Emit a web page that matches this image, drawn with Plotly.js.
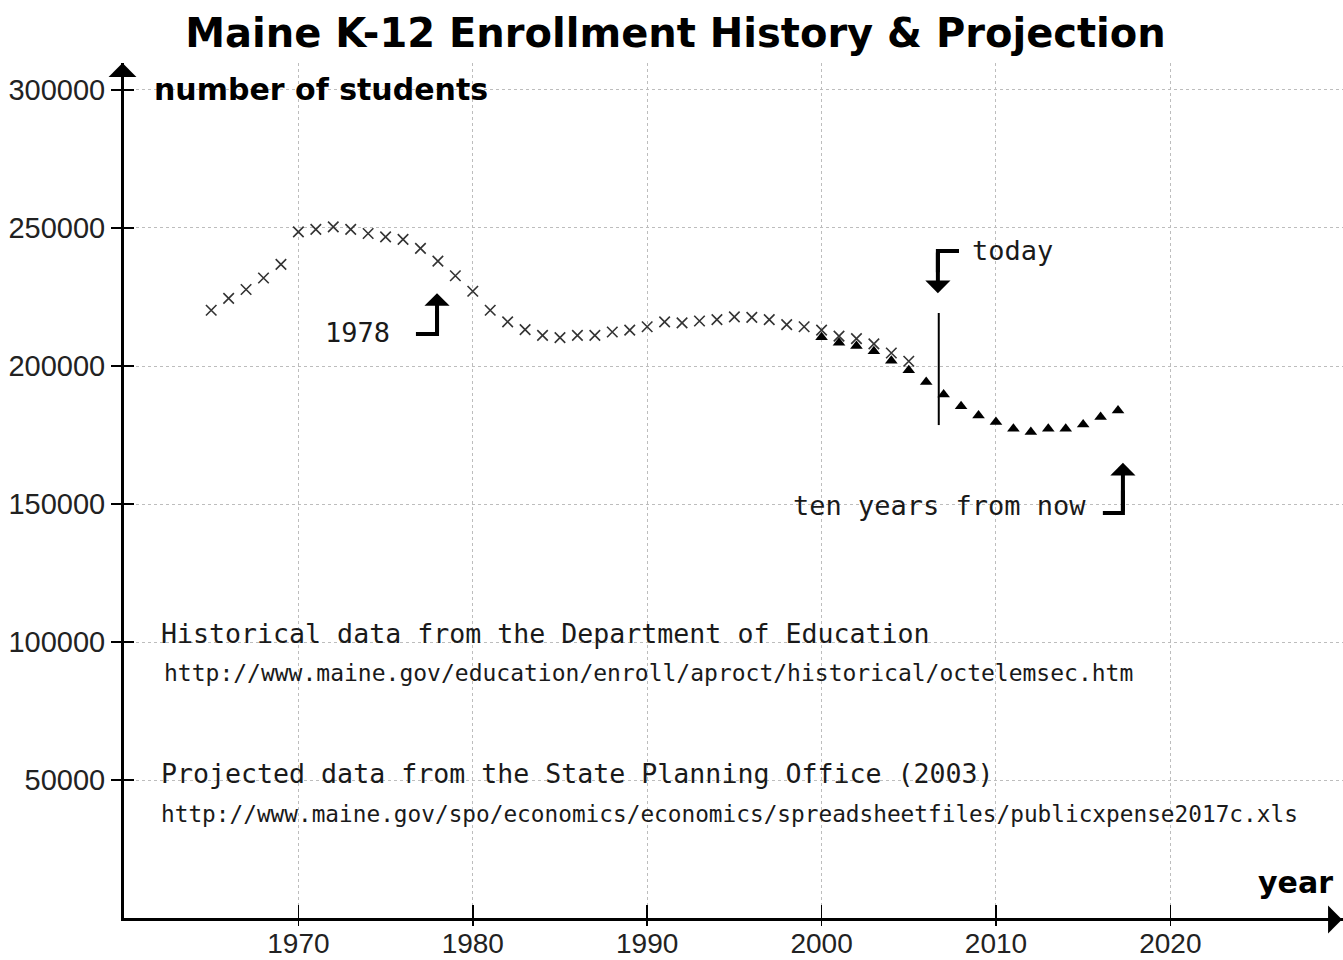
<!DOCTYPE html>
<html>
<head>
<meta charset="utf-8">
<script src="https://cdn.plot.ly/plotly-3.0.1.min.js"></script>
<style>html,body{margin:0;padding:0;background:#fff}#chart{width:1343px;height:960px}</style>
</head>
<body>
<div id="chart"></div>
<script>
// ---- data ----
const histYears = [1965,1966,1967,1968,1969,1970,1971,1972,1973,1974,1975,1976,1977,1978,1979,
                   1980,1981,1982,1983,1984,1985,1986,1987,1988,1989,1990,1991,1992,1993,1994,
                   1995,1996,1997,1998,1999,2000,2001,2002,2003,2004,2005];
const histValues = [220200,224500,227700,231900,236800,248600,249500,250400,249500,248000,246800,245900,242600,238000,232700,
                    227100,220200,216000,213200,211100,210300,211100,211100,212300,213000,214200,216000,215600,216300,216800,
                    217800,217600,216800,215000,214200,213000,210800,209900,208000,204700,201700];
const projYears = [2000,2001,2002,2003,2004,2005,2006,2007,2008,2009,2010,2011,2012,2013,2014,2015,2016,2017];
const projValues = [210400,208400,207200,205300,201900,198500,194200,189700,185400,182100,179700,177300,176100,177300,177300,178800,181500,183900];

const xTickVals = [1970,1980,1990,2000,2010,2020];
const xTickText = ['1970','1980','1990','2000','2010','2020'];
const yTickVals = [50000,100000,150000,200000,250000,300000];
const yTickText = ['50000','100000','150000','200000','250000','300000'];

const titleText = 'Maine K-12 Enrollment History &amp; Projection';
const yLabelText = 'number of students';
const xLabelText = 'year';
const note1978 = '1978';
const noteToday = 'today';
const noteTen = 'ten years from now';
const source1 = 'Historical data from the Department of Education';
const source1Url = 'http://www.maine.gov/education/enroll/aproct/historical/octelemsec.htm';
const source2 = 'Projected data from the State Planning Office (2003)';
const source2Url = 'http://www.maine.gov/spo/economics/economics/spreadsheetfiles/publicxpense2017c.xls';

// ---- styling / layout ----
const xRange = [1960, 2029.9];
const yRange = [0, 309780];
const mono = 'DejaVu Sans Mono, Liberation Mono, monospace';
const boldSans = 'DejaVu Sans, Verdana, sans-serif';
const tickFontY = {family: 'Liberation Sans, Arial, sans-serif', size: 29, color: '#222'};
const tickFontX = {family: 'Liberation Sans, Arial, sans-serif', size: 28, color: '#222'};

const traces = [
  {type: 'scatter', mode: 'markers', x: histYears, y: histValues, name: 'historical',
   marker: {symbol: 'x-thin-open', size: 10.5, color: '#333', line: {width: 1.6, color: '#333'}}, hoverinfo: 'x+y'},
  {type: 'scatter', mode: 'markers', x: projYears, y: projValues, name: 'projected',
   marker: {symbol: 'triangle-up', size: 11, color: '#000'}, hoverinfo: 'x+y'},
  {type: 'scatter', mode: 'markers', x: [], y: [], xaxis: 'x2', yaxis: 'y2', showlegend: false, hoverinfo: 'skip'}
];

function arrow(tailX, tailY, tipX, tipY, w, size, head) {
  return {xref: 'x', yref: 'y', axref: 'x', ayref: 'y', x: tipX, y: tipY, ax: tailX, ay: tailY,
          showarrow: true, arrowhead: head, arrowwidth: w, arrowsize: size, arrowcolor: '#000', text: ''};
}
function axisHead(x, y, dx, dy) {
  return {xref: 'paper', yref: 'paper', x: x, y: y, ax: dx, ay: dy, showarrow: true,
          arrowhead: 1, arrowwidth: 3, arrowsize: 1.55, arrowcolor: '#000', text: ''};
}
function label(x, y, text, font, xanchor) {
  return {xref: 'x', yref: 'y', x: x, y: y, text: text, showarrow: false, xanchor: xanchor, yanchor: 'middle', font: font};
}
function elbow(x1, y1, x2, y2) {
  return {type: 'path', xref: 'x', yref: 'y', path: 'M' + x1 + ',' + y1 + ' L' + x2 + ',' + y1 + ' L' + x2 + ',' + y2,
          line: {color: '#000', width: 4}};
}

const textFont = {family: mono, size: 27, color: '#1a1a1a'};
const srcFont = {family: mono, size: 26.6, color: '#1a1a1a'};
const url1Font = {family: mono, size: 23, color: '#1a1a1a'};
const url2Font = {family: mono, size: 22.75, color: '#1a1a1a'};
const boldFont = {family: boldSans, size: 30, color: '#000', weight: 'bold'};

const annotations = [
  // axis arrowheads (paper coords, tail offset in px)
  axisHead(-1.5 / 1219, 1, 0, 24),
  axisHead(1, -1.5 / 855, -24, 0),
  // callout arrows
  arrow(1977.95, 211600, 1977.95, 226400, 4, 1.05, 1),
  arrow(2006.67, 241700, 2006.67, 226400, 4, 1.05, 1),
  arrow(2017.28, 146700, 2017.28, 164900, 4, 1.05, 1),
  // texts
  label(1975.37, 212000, note1978, textFont, 'right'),
  label(2008.5, 241700, noteToday, textFont, 'left'),
  label(2015.3, 149600, noteTen, textFont, 'right'),
  label(1962.0, 102900, source1, srcFont, 'left'),
  label(1962.2, 88800, source1Url, url1Font, 'left'),
  label(1962.0, 52500, source2, srcFont, 'left'),
  label(1962.0, 37700, source2Url, url2Font, 'left'),
  label(1961.6, 300000, yLabelText, boldFont, 'left'),
  label(2029.45, 13000, xLabelText, boldFont, 'right')
];

const shapes = [
  {type: 'line', xref: 'x', yref: 'y', x0: 2006.72, x1: 2006.72, y0: 178600, y1: 219200, line: {color: '#000', width: 2}},
  elbow(1976.74, 211600, 1977.95, 220000),
  elbow(2007.88, 241700, 2006.67, 234000),
  elbow(2016.13, 146700, 2017.28, 155000)
];

const axisCommon = {showline: true, linewidth: 3, linecolor: '#000', zeroline: false,
  showgrid: true, gridcolor: '#bdbdbd', griddash: 'dot', gridwidth: 1,
  tickcolor: '#000', tickwidth: 1.5, fixedrange: true};

const layout = {
  width: 1343, height: 960,
  margin: {l: 124, r: 0, t: 63, b: 42, pad: 0},
  paper_bgcolor: '#fff', plot_bgcolor: '#fff', showlegend: false,
  title: {text: titleText, xref: 'container', yref: 'container', x: 0.503, y: 0.9656,
          xanchor: 'center', yanchor: 'middle', font: {family: boldSans, size: 40, color: '#000', weight: 'bold'}},
  xaxis: Object.assign({}, axisCommon, {range: xRange, tickvals: xTickVals, ticktext: xTickText, tickfont: tickFontX,
          ticks: 'outside', ticklen: 5, ticklabelstandoff: -7}),
  yaxis: Object.assign({}, axisCommon, {range: yRange, tickvals: yTickVals, ticktext: yTickText, tickfont: tickFontY,
          ticks: 'outside', ticklen: 10}),
  xaxis2: {overlaying: 'x', anchor: 'y', range: xRange, tickvals: xTickVals, ticks: 'inside', ticklen: 13, tickwidth: 1.5,
           tickcolor: '#000', showticklabels: false, showgrid: false, showline: false, zeroline: false, fixedrange: true},
  yaxis2: {overlaying: 'y', anchor: 'x', range: yRange, tickvals: yTickVals, ticks: 'inside', ticklen: 10, tickwidth: 1.5,
           tickcolor: '#000', showticklabels: false, showgrid: false, showline: false, zeroline: false, fixedrange: true},
  annotations: annotations,
  shapes: shapes
};

Plotly.newPlot('chart', traces, layout, {displayModeBar: false, staticPlot: true});
</script>
</body>
</html>
